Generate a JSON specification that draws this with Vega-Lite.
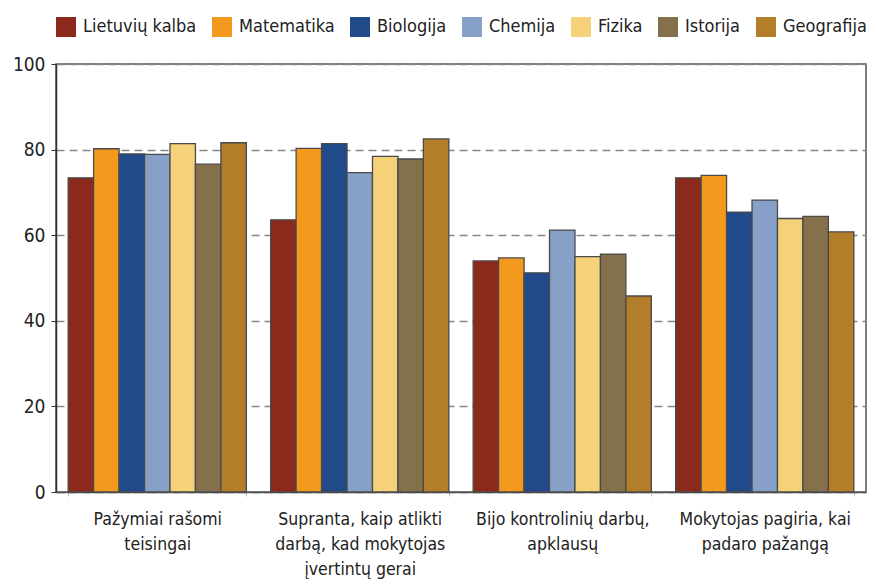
{
  "$schema": "https://vega.github.io/schema/vega-lite/v6.json",
  "width": 810,
  "height": 428,
  "autosize": {"type": "none"},
  "padding": {"left": 56, "top": 64, "right": 10, "bottom": 93},
  "background": "white",
  "config": {
    "font": "Liberation Sans Narrow, DejaVu Sans Condensed, sans-serif",
    "view": {"stroke": "#555555", "strokeWidth": 1.5}
  },
  "data": {
    "values": [
      {"kategorija": "Pažymiai rašomi teisingai", "dalykas": "Lietuvių kalba", "reiksme": 73.4},
      {"kategorija": "Pažymiai rašomi teisingai", "dalykas": "Matematika", "reiksme": 80.2},
      {"kategorija": "Pažymiai rašomi teisingai", "dalykas": "Biologija", "reiksme": 79.0},
      {"kategorija": "Pažymiai rašomi teisingai", "dalykas": "Chemija", "reiksme": 78.9},
      {"kategorija": "Pažymiai rašomi teisingai", "dalykas": "Fizika", "reiksme": 81.4},
      {"kategorija": "Pažymiai rašomi teisingai", "dalykas": "Istorija", "reiksme": 76.6},
      {"kategorija": "Pažymiai rašomi teisingai", "dalykas": "Geografija", "reiksme": 81.6},
      {"kategorija": "Supranta, kaip atlikti darbą, kad mokytojas įvertintų gerai", "dalykas": "Lietuvių kalba", "reiksme": 63.6},
      {"kategorija": "Supranta, kaip atlikti darbą, kad mokytojas įvertintų gerai", "dalykas": "Matematika", "reiksme": 80.3},
      {"kategorija": "Supranta, kaip atlikti darbą, kad mokytojas įvertintų gerai", "dalykas": "Biologija", "reiksme": 81.4},
      {"kategorija": "Supranta, kaip atlikti darbą, kad mokytojas įvertintų gerai", "dalykas": "Chemija", "reiksme": 74.6},
      {"kategorija": "Supranta, kaip atlikti darbą, kad mokytojas įvertintų gerai", "dalykas": "Fizika", "reiksme": 78.4},
      {"kategorija": "Supranta, kaip atlikti darbą, kad mokytojas įvertintų gerai", "dalykas": "Istorija", "reiksme": 77.8},
      {"kategorija": "Supranta, kaip atlikti darbą, kad mokytojas įvertintų gerai", "dalykas": "Geografija", "reiksme": 82.5},
      {"kategorija": "Bijo kontrolinių darbų, apklausų", "dalykas": "Lietuvių kalba", "reiksme": 54.0},
      {"kategorija": "Bijo kontrolinių darbų, apklausų", "dalykas": "Matematika", "reiksme": 54.7},
      {"kategorija": "Bijo kontrolinių darbų, apklausų", "dalykas": "Biologija", "reiksme": 51.2},
      {"kategorija": "Bijo kontrolinių darbų, apklausų", "dalykas": "Chemija", "reiksme": 61.2},
      {"kategorija": "Bijo kontrolinių darbų, apklausų", "dalykas": "Fizika", "reiksme": 55.0},
      {"kategorija": "Bijo kontrolinių darbų, apklausų", "dalykas": "Istorija", "reiksme": 55.6},
      {"kategorija": "Bijo kontrolinių darbų, apklausų", "dalykas": "Geografija", "reiksme": 45.8},
      {"kategorija": "Mokytojas pagiria, kai padaro pažangą", "dalykas": "Lietuvių kalba", "reiksme": 73.4},
      {"kategorija": "Mokytojas pagiria, kai padaro pažangą", "dalykas": "Matematika", "reiksme": 74.0},
      {"kategorija": "Mokytojas pagiria, kai padaro pažangą", "dalykas": "Biologija", "reiksme": 65.4},
      {"kategorija": "Mokytojas pagiria, kai padaro pažangą", "dalykas": "Chemija", "reiksme": 68.2},
      {"kategorija": "Mokytojas pagiria, kai padaro pažangą", "dalykas": "Fizika", "reiksme": 63.9},
      {"kategorija": "Mokytojas pagiria, kai padaro pažangą", "dalykas": "Istorija", "reiksme": 64.4},
      {"kategorija": "Mokytojas pagiria, kai padaro pažangą", "dalykas": "Geografija", "reiksme": 60.8}
    ]
  },
  "mark": {"type": "bar", "stroke": "#4a4a4a", "strokeWidth": 1.3},
  "encoding": {
    "x": {
      "field": "kategorija",
      "type": "nominal",
      "sort": null,
      "scale": {"paddingInner": 0.12, "paddingOuter": 0.06},
      "axis": {
        "title": null,
        "labelAngle": 0,
        "labelFontSize": 17.5,
        "labelColor": "#222222",
        "labelLineHeight": 25,
        "labelPadding": 14,
        "labelBaseline": "top",
        "labelLimit": 400,
        "labelOverlap": false,
        "tickBand": "extent",
        "tickColor": "#bbbbbb",
        "tickSize": 4,
        "domainColor": "#555555",
        "domainWidth": 1.5,
        "labelExpr": "datum.value == 'Pažymiai rašomi teisingai' ? ['Pažymiai rašomi', 'teisingai'] : datum.value == 'Supranta, kaip atlikti darbą, kad mokytojas įvertintų gerai' ? ['Supranta, kaip atlikti', 'darbą, kad mokytojas', 'įvertintų gerai'] : datum.value == 'Bijo kontrolinių darbų, apklausų' ? ['Bijo kontrolinių darbų,', 'apklausų'] : datum.value == 'Mokytojas pagiria, kai padaro pažangą' ? ['Mokytojas pagiria, kai', 'padaro pažangą'] : ''"
      }
    },
    "xOffset": {
      "field": "dalykas",
      "type": "nominal",
      "sort": ["Lietuvių kalba", "Matematika", "Biologija", "Chemija", "Fizika", "Istorija", "Geografija"],
      "scale": {"paddingInner": 0, "paddingOuter": 0}
    },
    "y": {
      "field": "reiksme",
      "type": "quantitative",
      "scale": {"domain": [0, 100], "nice": false},
      "axis": {
        "title": null,
        "values": [0, 20, 40, 60, 80, 100],
        "labelFontSize": 19,
        "labelColor": "#222222",
        "labelPadding": 6,
        "tickColor": "#333333",
        "tickSize": 5,
        "domainColor": "#333333",
        "domainWidth": 1.5,
        "grid": true,
        "gridColor": "#888888",
        "gridDash": [8, 5],
        "gridWidth": 1.5
      }
    },
    "color": {
      "field": "dalykas",
      "type": "nominal",
      "sort": ["Lietuvių kalba", "Matematika", "Biologija", "Chemija", "Fizika", "Istorija", "Geografija"],
      "scale": {
        "domain": ["Lietuvių kalba", "Matematika", "Biologija", "Chemija", "Fizika", "Istorija", "Geografija"],
        "range": ["#8b2a1c", "#f39a1e", "#214a8a", "#86a0c8", "#f5d27a", "#85704c", "#b47d2a"]
      },
      "legend": {
        "title": null,
        "orient": "top",
        "direction": "horizontal",
        "offset": 27,
        "symbolType": "square",
        "symbolSize": 400,
        "symbolStrokeWidth": 0,
        "symbolOpacity": 1,
        "labelFontSize": 18,
        "labelColor": "#222222",
        "labelOffset": 7,
        "columnPadding": 15,
        "labelLimit": 300
      }
    }
  }
}
